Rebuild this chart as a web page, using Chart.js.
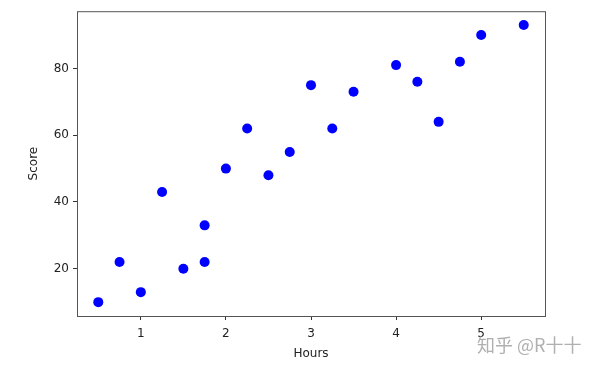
<!DOCTYPE html>
<html>
<head>
<meta charset="utf-8">
<script src="https://cdn.jsdelivr.net/npm/chart.js@4"></script>
<style>
  html, body { margin: 0; padding: 0; background: #fff; }
  #wrap { position: relative; width: 600px; height: 368px; }
  #mark {
    position: absolute; left: 477px; top: 331px;
    font: 18px "Noto Sans CJK SC", sans-serif; color: #b0b0b0;
  }
</style>
</head>
<body>
<div id="wrap">
  <canvas id="myChart" width="600" height="368"></canvas>
  <div id="mark">知乎 @R十十</div>
</div>
<script>
const hours = [0.5, 0.75, 1, 1.25, 1.5, 1.75, 1.75, 2, 2.25, 2.5, 2.75, 3, 3.25, 3.5, 4, 4.25, 4.5, 4.75, 5, 5.5];
const scores = [10, 22, 13, 43, 20, 22, 33, 50, 62, 48, 55, 75, 62, 73, 81, 76, 64, 82, 90, 93];
const xTicks = [1, 2, 3, 4, 5];
const yTicks = [20, 40, 60, 80];

const points = hours.map((h, i) => ({ x: h, y: scores[i] }));

// rámeček kolem grafu jako v matplotlibu
const frame = {
  id: "frame",
  afterDraw(chart) {
    const { ctx, chartArea: a } = chart;
    ctx.save();
    ctx.strokeStyle = "#555";
    ctx.lineWidth = 1;
    ctx.strokeRect(a.left + 0.5, a.top + 0.5, a.right - a.left, a.bottom - a.top);
    ctx.restore();
  },
};

const font = { family: "DejaVu Sans", size: 12 };

const ctx = document.getElementById("myChart").getContext("2d");
const myChart = new Chart(ctx, {
  type: "scatter",
  data: {
    datasets: [
      {
        data: points,
        backgroundColor: "#0000ff",
        borderWidth: 0,
        pointRadius: 5,
        pointHoverRadius: 5,
      },
    ],
  },
  options: {
    responsive: false,
    animation: false,
    layout: { padding: { top: 11, right: 55, left: 0, bottom: 0 } },
    plugins: { legend: { display: false }, tooltip: { enabled: false } },
    scales: {
      x: {
        type: "linear",
        min: 0.25,
        max: 5.75,
        afterBuildTicks: (s) => { s.ticks = xTicks.map((v) => ({ value: v })); },
        afterFit: (s) => { s.height = 52; },
        grid: { drawOnChartArea: false, tickLength: 4, tickColor: "#333" },
        border: { display: false },
        ticks: { color: "#222", font: font, padding: 7, maxRotation: 0 },
        title: { display: true, text: "Hours", color: "#222", font: font, padding: { top: 2, bottom: 7 } },
      },
      y: {
        min: 5.85,
        max: 97.15,
        afterBuildTicks: (s) => { s.ticks = yTicks.map((v) => ({ value: v })); },
        afterFit: (s) => { s.width = 77; },
        grid: { drawOnChartArea: false, tickLength: 4, tickColor: "#333" },
        border: { display: false },
        ticks: { color: "#222", font: font, padding: 4 },
        title: { display: true, text: "Score", color: "#222", font: font, padding: { top: 27, bottom: 6 } },
      },
    },
  },
  plugins: [frame],
});
</script>
</body>
</html>
